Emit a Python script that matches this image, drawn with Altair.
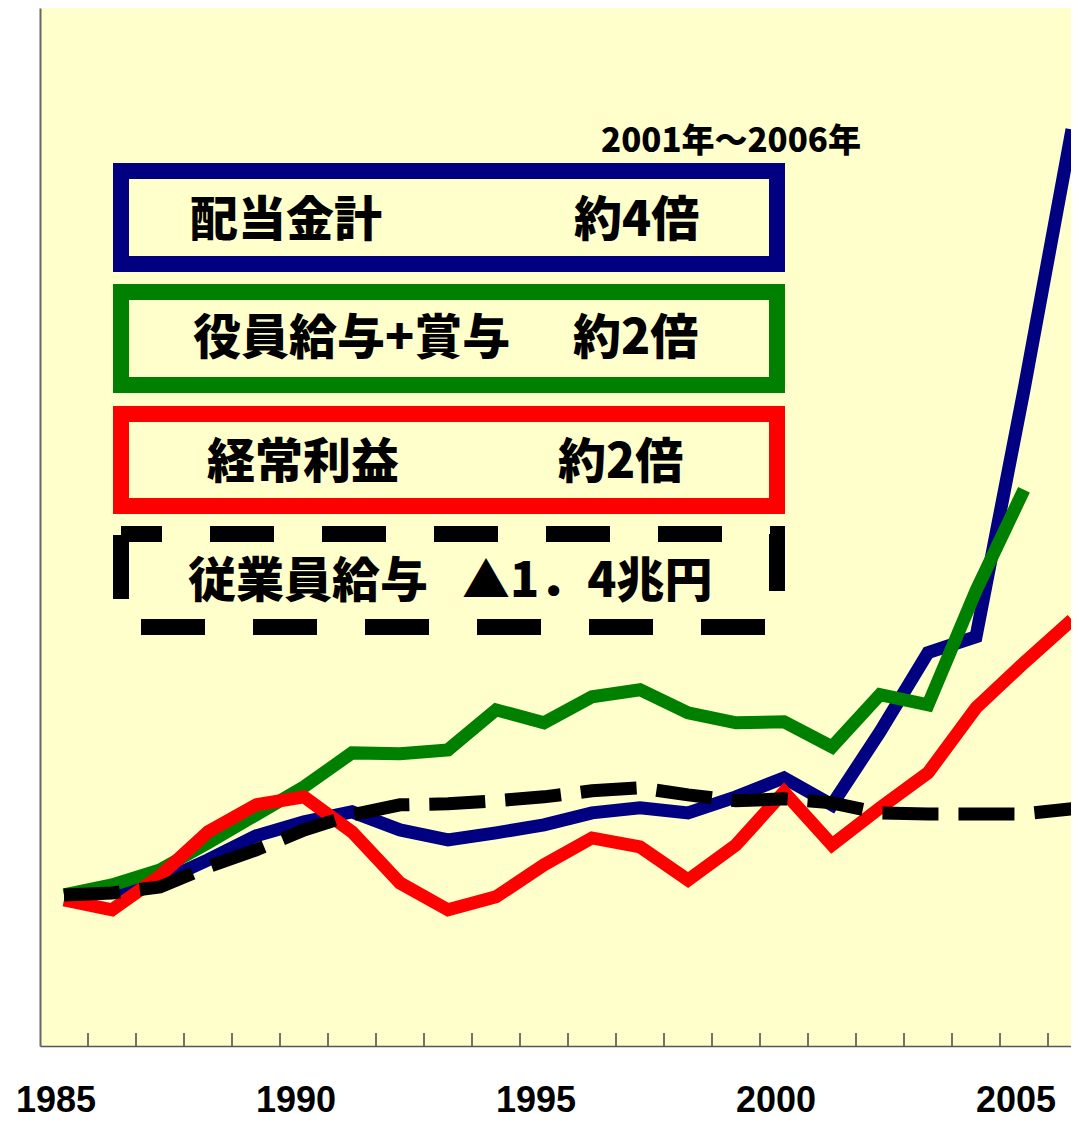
import altair as alt
import pandas as pd

# ---------------- data (index, 1985 = 100) ----------------
years = list(range(1985, 2007))

dividends = [100.0, 102.0, 108.6, 123.2, 139.1, 148.3, 155.0, 143.0, 136.4, 141.1,
             146.4, 154.3, 157.6, 154.3, 164.9, 177.5, 159.6, 207.9, 260.3, 270.9,
             434.4, 606.6]                       # 配当金計
exec_pay = [100.0, 106.6, 116.6, 134.4, 153.0, 171.5, 194.0, 193.4, 196.0, 222.5,
            213.9, 231.1, 235.8, 220.5, 213.9, 214.6, 198.0, 232.5, 225.8, 301.3,
            368.2]                               # 役員給与+賞与 (to 2005)
profit = [96.7, 90.1, 112.6, 141.7, 159.6, 164.9, 141.7, 107.9, 90.1, 98.7,
          119.9, 137.7, 131.8, 109.9, 133.1, 168.2, 133.1, 157.6, 180.8, 223.8,
          253.6, 282.1]                          # 経常利益
employee_pay = [100.0, 101.3, 105.3, 118.5, 129.8, 143.0, 153.0, 159.6, 160.3, 162.3,
                164.9, 168.9, 170.9, 166.2, 162.3, 163.6, 160.9, 154.3, 153.6, 153.6,
                153.6, 157.0]                    # 従業員給与

tick_years = [y + 0.5 for y in range(1985, 2006)]
label_years = [1985, 1990, 1995, 2000, 2005]

# ---------------- layout ----------------
W, H = 1031, 1038
BG = "#FFFFCC"
FONT_JP = "Noto Sans CJK JP"

xscale = alt.Scale(domain=[1984.5, 1984.5 + W / 48.0], nice=False, zero=False)
xaxis = alt.Axis(labels=False, ticks=False, grid=False, domain=True,
                 domainColor="#555555", domainWidth=1.5)


def xenc():
    return alt.X("year:Q", scale=xscale, axis=xaxis, title=None)


yscale = alt.Scale(domain=[0, 687], nice=False, zero=True)
yaxis = alt.Axis(labels=False, ticks=False, grid=False, domain=True,
                 domainColor="#666666", domainWidth=2)

series = [
    ("配当金計", dividends, "#000080", None),
    ("役員給与+賞与", exec_pay, "#008000", None),
    ("経常利益", profit, "#FF0000", None),
    ("従業員給与", employee_pay, "#000000", [56, 20]),
]

layers = []
for name, vals, col, dash in series:
    df = pd.DataFrame({"year": years[:len(vals)], "value": vals, "series": name})
    kw = dict(color=col, strokeWidth=13, strokeJoin="miter", strokeCap="butt")
    if dash:
        kw["strokeDash"] = dash
    layers.append(
        alt.Chart(df).mark_line(**kw).encode(
            x=xenc(),
            y=alt.Y("value:Q", scale=yscale, axis=yaxis, title=None),
        )
    )

# inward ticks between years
ticks_df = pd.DataFrame({"year": tick_years})
layers.append(
    alt.Chart(ticks_df).mark_rule(color="#444444", strokeWidth=1.5).encode(
        x=xenc(), y=alt.value(H), y2=alt.value(H - 13)
    )
)

# year labels
labels_df = pd.DataFrame({"year": label_years, "label": [str(y) for y in label_years]})
layers.append(
    alt.Chart(labels_df).mark_text(
        font="Liberation Sans, Arial", fontSize=36,
        fontWeight="bold", baseline="alphabetic", align="center", dx=-8, color="#000000"
    ).encode(x=xenc(), y=alt.value(1104), text="label:N")
)

# annotation boxes
boxes = [
    ("#000080", 81, 163, 737, 256, None),
    ("#008000", 81, 284, 737, 377, None),
    ("#FF0000", 81, 406, 737, 498, None),
    ("#000000", 81, 526, 737, 619, [64, 48]),
]
for col, x1, y1, x2, y2, dash in boxes:
    kw = dict(stroke=col, strokeWidth=16, fill=BG, fillOpacity=0, strokeJoin="miter")
    if dash:
        kw["strokeDash"] = dash
        kw["strokeDashOffset"] = 23
    layers.append(
        alt.Chart(pd.DataFrame({"k": [0]})).mark_rect(**kw).encode(
            x=alt.value(x1), x2=alt.value(x2), y=alt.value(y1), y2=alt.value(y2)
        )
    )

# annotation texts
texts = [
    ("2001年～2006年", 691, 134, 33, "center"),
    ("配当金計", 150, 214, 48, "left"),
    ("約4倍", 534, 214, 48, "left"),
    ("役員給与+賞与", 153, 332, 48, "left"),
    ("約2倍", 533, 332, 48, "left"),
    ("経常利益", 167, 456, 48, "left"),
    ("約2倍", 518, 456, 48, "left"),
    ("従業員給与", 148, 575, 48, "left"),
    ("▲1．4兆円", 422, 575, 48, "left"),
]
for txt, tx, ty, fs, al in texts:
    layers.append(
        alt.Chart(pd.DataFrame({"t": [txt]})).mark_text(
            font=FONT_JP, fontSize=fs, fontWeight=900, align=al,
            baseline="middle", color="#000000"
        ).encode(x=alt.value(tx), y=alt.value(ty), text="t:N")
    )

chart = alt.layer(*layers).properties(
    width=W, height=H,
    padding={"left": 32, "top": 0, "right": 0, "bottom": 74},
    autosize=alt.AutoSizeParams(type="none"),
    background="#FFFFFF",
).configure_view(fill=BG, stroke=None)

chart.save("out.html", embed_options={"renderer": "svg", "actions": False})
